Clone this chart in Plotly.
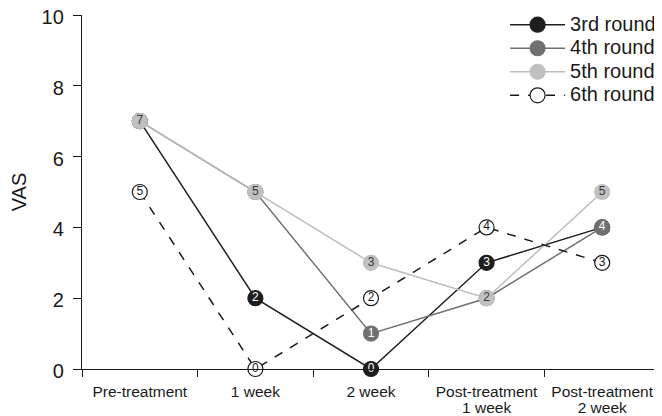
import plotly.graph_objects as go

categories = ["Pre-treatment", "1 week", "2 week", "Post-treatment 1 week", "Post-treatment 2 week"]
tick_labels = ["Pre-treatment", "1 week", "2 week", "Post-treatment<br>1 week", "Post-treatment<br>2 week"]
round3 = [7, 2, 0, 3, 4]
round4 = [7, 5, 1, 2, 4]
round5 = [7, 5, 3, 2, 5]
round6 = [5, 0, 2, 4, 3]
y_ticks = [0, 2, 4, 6, 8, 10]

series = [
    ("3rd round", round3, "#1e1e1e", "#1e1e1e", "solid", "white"),
    ("4th round", round4, "#707070", "#707070", "solid", "white"),
    ("5th round", round5, "#c0c0c0", "#bdbdbd", "solid", "#3a3a3a"),
    ("6th round", round6, "white", "#1a1a1a", "dash", "#1a1a1a"),
]

fig = go.Figure()
for name, vals, fill, line_col, dash, txt_col in series:
    fig.add_trace(go.Scatter(
        x=categories, y=vals, name='<span style="font-size:20px">' + name + "</span>",
        mode="lines+markers",
        line=dict(color=line_col, width=1.5, dash=dash),
        marker=dict(size=15, color=fill,
                    line=dict(color="#1a1a1a" if fill == "white" else fill, width=1.2)),
        cliponaxis=False,
    ))
    fig.add_trace(go.Scatter(
        x=categories, y=vals, mode="text", text=[str(v) for v in vals],
        textposition="middle center",
        textfont=dict(family="Liberation Sans, Arial, sans-serif", size=12, color=txt_col),
        showlegend=False, cliponaxis=False, hoverinfo="skip",
    ))

fig.update_layout(
    width=654, height=408,
    margin=dict(l=74, r=2, t=7, b=47, autoexpand=False),
    paper_bgcolor="white", plot_bgcolor="white",
    font=dict(family="Liberation Sans, Arial, sans-serif", color="#1a1a1a"),
    showlegend=True,
    legend=dict(x=0.732, y=1.02, xanchor="left", yanchor="top",
                font=dict(size=15.8, color="#1a1a1a"), itemwidth=55,
                tracegroupgap=0, bgcolor="rgba(0,0,0,0)"),
    xaxis=dict(
        type="category", range=[-0.5, 4.5], showline=True, linecolor="#1a1a1a", linewidth=1.3,
        tickmode="array", tickvals=categories,
        ticktext=['<span style="font-size:15.5px">' + t + "</span>" for t in tick_labels],
        ticks="outside", ticklen=7, tickcolor="#1a1a1a", tickwidth=1.3, tickson="boundaries",
        ticklabelstandoff=12,
        tickfont=dict(size=12.5, color="#1a1a1a"), showgrid=False, zeroline=False,
    ),
    yaxis=dict(
        range=[0, 10], tickvals=y_ticks, showline=True, linecolor="#1a1a1a", linewidth=1.3,
        ticks="outside", ticklen=8, tickcolor="#1a1a1a", tickwidth=1.3, ticklabelstandoff=5,
        ticklabeloverflow="allow", ticklabelshift=2,
        tickfont=dict(size=20, color="#1a1a1a"), showgrid=False, zeroline=False,
        title=dict(text="VAS", font=dict(size=20, color="#1a1a1a"), standoff=19),
    ),
)

fig.write_html("out.html")
